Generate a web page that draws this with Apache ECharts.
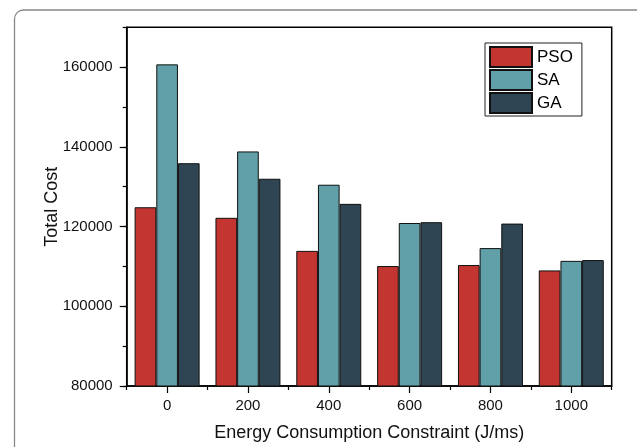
<!DOCTYPE html>
<html>
<head>
<meta charset="utf-8">
<script src="https://cdn.jsdelivr.net/npm/echarts@6/dist/echarts.min.js"></script>
<style>html,body{margin:0;padding:0;background:#fff;}#c{width:637px;height:447px;}</style>
</head>
<body>
<div id="c"></div>
<script>
var categories = ['0', '200', '400', '600', '800', '1000'];
var seriesNames = ['PSO', 'SA', 'GA'];
var psoValues = [124850, 122200, 113900, 110100, 110350, 109000];
var saValues  = [160700, 138850, 130500, 120900, 114600, 111400];
var gaValues  = [135900, 132000, 125700, 121100, 120750, 111600];
var colors = ['#c23531', '#61a0a8', '#2f4554'];
var yMin = 80000, yMax = 170000, yMajor = 20000, yMinor = 10000;

var font = '"Liberation Sans", Arial, Helvetica, sans-serif';
var chart = echarts.init(document.getElementById('c'));
function bar(name, data, color) {
  return {
    name: name, type: 'bar', data: data, xAxisIndex: 0, yAxisIndex: 0,
    barGap: '0%', barCategoryGap: '19.6%',
    itemStyle: { color: color, borderColor: '#111', borderWidth: 1 }
  };
}
chart.setOption({
  backgroundColor: '#fff',
  animation: false,
  graphic: [{
    type: 'rect', silent: true,
    shape: { x: 14.5, y: 10, width: 640, height: 460, r: 9 },
    style: { fill: 'none', stroke: '#888', lineWidth: 1.3 }
  }],
  legend: {
    data: seriesNames, orient: 'vertical', left: 485, top: 43,
    itemWidth: 42, itemHeight: 20, itemGap: 1,
    padding: [3, 9, 2, 4], borderColor: '#222', borderWidth: 1,
    backgroundColor: '#fff',
    textStyle: { fontFamily: font, fontSize: 17, color: '#000' },
    icon: 'rect'
  },
  grid: { left: 126.7, right: 25.3, top: 27.3, bottom: 59.3, show: true,
          borderColor: '#000', borderWidth: 1.5, backgroundColor: 'transparent' },
  xAxis: [{
    type: 'category', data: categories, position: 'bottom',
    name: 'Energy Consumption Constraint (J/ms)', nameLocation: 'middle', nameGap: 38,
    nameMoveOverlap: false,
    nameTextStyle: { fontFamily: font, fontSize: 18, color: '#111' },
    axisLine: { show: true, lineStyle: { color: '#000', width: 1.5 } },
    axisTick: { show: true, alignWithLabel: true, length: 7, lineStyle: { color: '#000', width: 1.2 } },
    axisLabel: { fontFamily: font, fontSize: 15, color: '#111', margin: 12 },
    splitLine: { show: false }
  }, {
    type: 'category', data: categories, position: 'bottom',
    axisLine: { show: false },
    axisTick: { show: true, alignWithLabel: false, length: 4, lineStyle: { color: '#000', width: 1.2 } },
    axisLabel: { show: false },
    splitLine: { show: false }
  }],
  yAxis: [{
    type: 'value', min: yMin, max: yMax, interval: yMajor, position: 'left',
    name: 'Total Cost', nameLocation: 'middle', nameGap: 66,
    nameMoveOverlap: false,
    nameTextStyle: { fontFamily: font, fontSize: 18, color: '#111' },
    axisLine: { show: true, lineStyle: { color: '#000', width: 1.5 } },
    axisTick: { show: true, length: 7, lineStyle: { color: '#000', width: 1.2 } },
    axisLabel: { fontFamily: font, fontSize: 15, color: '#111', margin: 14, showMaxLabel: false,
                 formatter: function (v) { return String(v); } },
    splitLine: { show: false }
  }, {
    type: 'value', min: yMin, max: yMax, interval: yMinor, position: 'left',
    axisLine: { show: false },
    axisTick: { show: true, length: 4, lineStyle: { color: '#000', width: 1.2 } },
    axisLabel: { show: false },
    splitLine: { show: false }
  }],
  series: [
    bar(seriesNames[0], psoValues, colors[0]),
    bar(seriesNames[1], saValues, colors[1]),
    bar(seriesNames[2], gaValues, colors[2])
  ]
});
</script>
</body>
</html>
